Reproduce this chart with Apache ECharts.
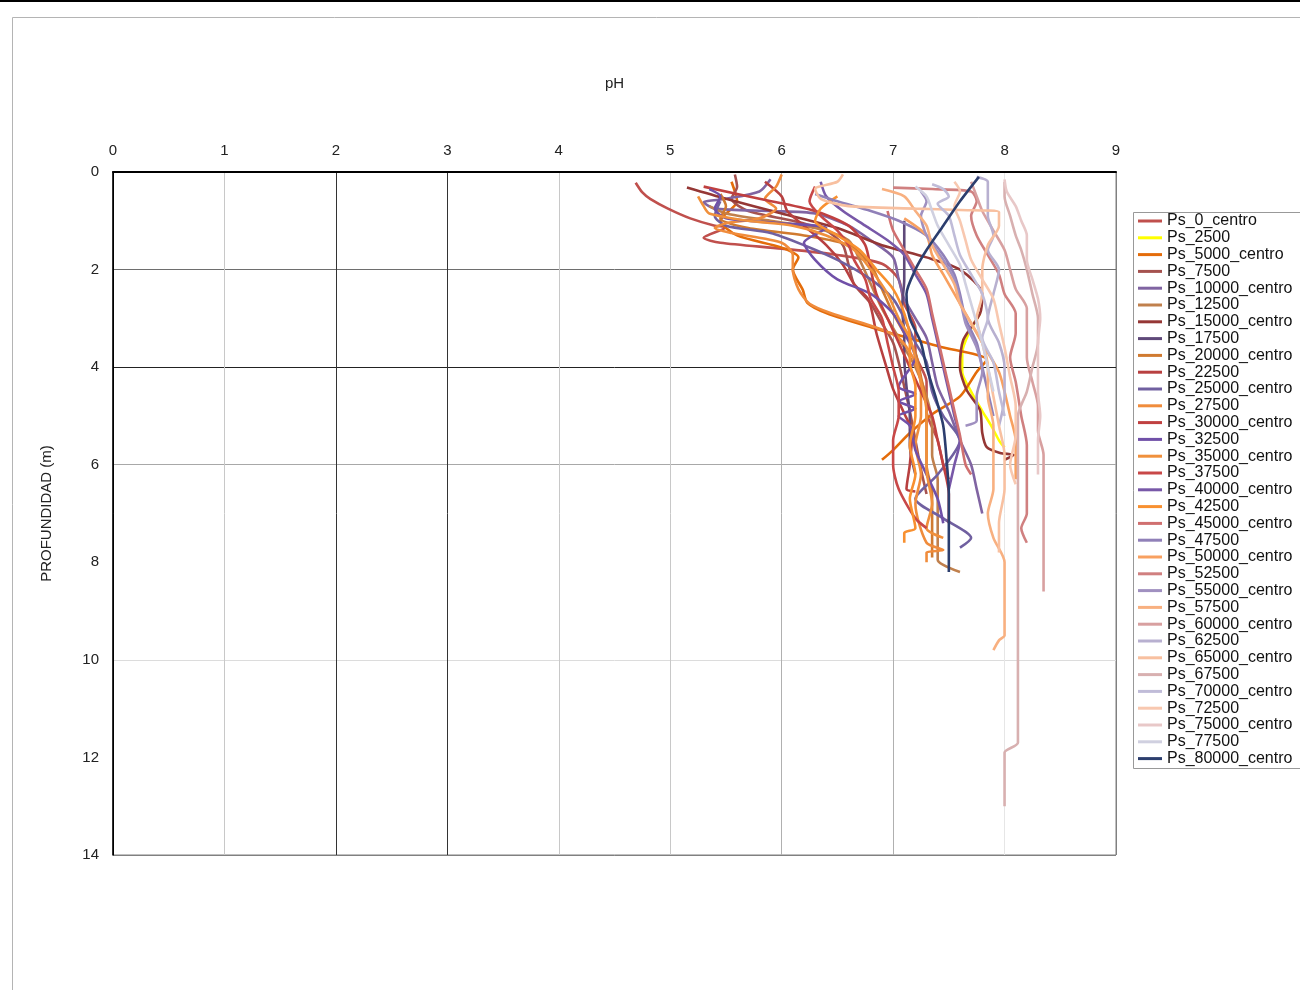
<!DOCTYPE html>
<html>
<head>
<meta charset="utf-8">
<script src="https://cdn.jsdelivr.net/npm/echarts@6/dist/echarts.min.js"></script>
<style>
  html, body { margin: 0; padding: 0; background: #ffffff; }
  #chart { width: 1300px; height: 990px; }
</style>
</head>
<body>
<div id="chart"></div>
<script>
// pH profiles against depth, one per sampling point: [pH, depth (m)]
const seriesNames = [
  'Ps_0_centro', 'Ps_2500', 'Ps_5000_centro', 'Ps_7500', 'Ps_10000_centro', 'Ps_12500',
  'Ps_15000_centro', 'Ps_17500', 'Ps_20000_centro', 'Ps_22500', 'Ps_25000_centro', 'Ps_27500',
  'Ps_30000_centro', 'Ps_32500', 'Ps_35000_centro', 'Ps_37500', 'Ps_40000_centro', 'Ps_42500',
  'Ps_45000_centro', 'Ps_47500', 'Ps_50000_centro', 'Ps_52500', 'Ps_55000_centro', 'Ps_57500',
  'Ps_60000_centro', 'Ps_62500', 'Ps_65000_centro', 'Ps_67500', 'Ps_70000_centro', 'Ps_72500',
  'Ps_75000_centro', 'Ps_77500', 'Ps_80000_centro'
];

const phTicks = [0, 1, 2, 3, 4, 5, 6, 7, 8, 9];
const depthTicks = [0, 2, 4, 6, 8, 10, 12, 14];

const ps0 = [[4.69,0.22],[4.75,0.42],[4.82,0.55],[4.98,0.75],[5.18,0.95],[5.4,1.1],[5.5,1.13],[5.3,1.35],[5.45,1.45],[6.0,1.57],[6.5,1.7],[6.9,1.88],[7.05,2.2],[7.1,2.7],[7.2,3.2],[7.2,3.7],[7.3,4.3],[7.3,4.9],[7.4,5.5],[7.45,6.0],[7.5,6.3]];
const ps2500 = [[7.78,2.9],[7.68,3.3],[7.62,3.7],[7.62,4.1],[7.7,4.5],[7.8,4.9],[7.88,5.2],[7.95,5.5],[8.0,5.65]];
const ps5000 = [[5.55,0.2],[5.6,0.6],[5.45,1.0],[5.6,1.3],[6.0,1.55],[6.15,1.75],[6.1,2.0],[6.19,2.42],[6.23,2.68],[6.4,2.89],[6.8,3.18],[7.42,3.58],[7.84,3.85],[7.75,4.1],[7.6,4.6],[7.36,4.95],[7.15,5.35],[7.0,5.7],[6.9,5.9]];
const ps7500 = [[5.58,0.05],[5.6,0.3],[5.55,0.55],[5.7,0.8],[6.1,1.0],[6.4,1.2],[6.55,1.5],[6.6,1.9],[6.65,2.3],[6.8,2.7],[6.9,3.1],[7.0,3.5],[7.05,3.9],[7.1,4.4],[7.15,4.9],[7.2,5.5],[7.25,6.1],[7.3,6.6]];
const ps10000 = [[5.9,0.15],[5.8,0.4],[5.5,0.55],[5.3,0.62],[5.4,0.75],[5.9,0.8],[6.3,0.85],[6.6,1.1],[6.8,1.4],[7.0,1.75],[7.05,2.2],[7.1,2.6],[7.2,3.0],[7.3,3.4],[7.35,3.9],[7.4,4.4],[7.5,4.9],[7.6,5.5],[7.7,6.0],[7.75,6.5],[7.8,7.0]];
const ps12500 = [[5.35,0.7],[5.5,0.85],[5.9,1.0],[6.3,1.15],[6.6,1.4],[6.7,1.8],[6.8,2.3],[6.9,2.8],[7.0,3.2],[7.1,3.6],[7.2,4.0],[7.3,4.6],[7.35,5.2],[7.35,5.8],[7.4,6.3],[7.4,6.9],[7.4,7.5],[7.4,7.95],[7.6,8.2]];
const ps15000 = [[5.15,0.32],[5.5,0.55],[6.0,0.85],[6.5,1.15],[6.9,1.5],[7.3,1.75],[7.6,2.0],[7.8,2.5],[7.78,2.9],[7.63,3.44],[7.6,4.0],[7.66,4.47],[7.78,4.88],[7.8,5.35],[7.84,5.64],[7.96,5.76],[8.08,5.8],[8.0,5.9]];
const ps17500 = [[7.1,1.0],[7.1,1.6],[7.1,2.2],[7.08,2.8],[7.1,3.3],[7.1,3.8],[7.12,4.4],[7.15,5.0],[7.15,5.6],[7.2,6.2]];
const ps20000 = [[5.45,0.45],[5.5,0.7],[5.45,0.95],[5.7,1.15],[6.2,1.3],[6.6,1.5],[6.8,1.9],[6.9,2.4],[7.0,2.9],[7.1,3.3],[7.2,3.7],[7.25,4.2],[7.3,4.8],[7.3,5.4],[7.3,6.0],[7.35,6.6],[7.35,7.2],[7.35,7.9]];
const ps22500 = [[5.85,0.2],[6.0,0.5],[6.05,0.8],[6.2,1.1],[6.4,1.5],[6.55,1.9],[6.65,2.3],[6.78,2.62],[6.85,3.3],[6.94,4.0],[7.0,4.45],[7.1,4.95],[7.17,5.35],[7.15,6.0],[7.12,6.5],[7.2,6.55]];
const ps25000 = [[5.45,0.6],[5.4,0.9],[5.5,1.1],[5.9,1.25],[6.2,1.5],[6.5,1.8],[6.8,2.2],[7.0,2.6],[7.1,3.0],[7.2,3.5],[7.3,3.9],[7.35,4.5],[7.45,5.0],[7.6,5.5],[7.4,6.2],[7.2,6.7],[7.45,7.1],[7.7,7.5],[7.6,7.7]];
const ps27500 = [[6.0,0.05],[5.95,0.3],[5.85,0.55],[5.95,0.75],[5.8,0.95],[5.5,1.05],[5.4,1.15],[5.55,1.25],[6.0,1.45],[6.1,1.7],[6.1,2.0],[6.15,2.4],[6.25,2.7],[6.45,2.9],[6.8,3.15],[7.05,3.4],[7.2,3.9],[7.25,4.4],[7.25,5.0],[7.2,5.6],[7.25,6.2],[7.2,6.8],[7.3,7.6],[7.45,7.75],[7.3,7.8],[7.3,8.0]];
const ps30000 = [[5.3,0.3],[5.8,0.55],[6.3,0.8],[6.6,1.1],[6.75,1.5],[6.8,2.0],[6.85,2.5],[6.95,3.0],[7.05,3.5],[7.15,4.0],[7.25,4.5],[7.35,5.0],[7.4,5.5],[7.45,6.0],[7.5,6.6],[7.5,7.2]];
const ps32500 = [[5.35,0.35],[5.45,0.5],[5.4,0.75],[5.5,0.95],[6.0,1.05],[6.4,1.15],[6.2,1.45],[6.3,1.8],[6.5,2.2],[6.8,2.5],[7.0,2.9],[7.1,3.3],[7.2,3.8],[7.05,4.4],[7.2,4.55],[7.05,4.7],[7.2,4.85],[7.05,5.0],[7.15,5.2],[7.2,5.7],[7.3,6.2],[7.4,6.7],[7.45,7.2]];
const ps35000 = [[5.25,0.5],[5.3,0.7],[5.35,0.85],[5.7,1.0],[6.1,1.1],[6.4,1.3],[6.65,1.6],[6.8,2.0],[6.95,2.5],[7.05,3.0],[7.15,3.4],[7.2,3.8],[7.25,4.3],[7.3,4.9],[7.3,5.5],[7.3,6.1],[7.35,6.8],[7.3,7.3],[7.45,7.5]];
const ps37500 = [[6.3,0.3],[6.25,0.6],[6.35,0.9],[6.5,1.2],[6.6,1.5],[6.65,1.8],[6.75,2.2],[6.8,2.6],[6.9,3.0],[6.95,3.5],[7.0,4.0],[7.05,4.5],[7.05,5.0],[7.0,5.5],[7.0,6.0],[7.05,6.5],[7.2,7.1],[7.3,7.3]];
const ps40000 = [[6.35,0.2],[6.4,0.5],[6.55,0.8],[6.75,1.1],[6.95,1.4],[7.1,1.7],[7.2,2.1],[7.3,2.5],[7.35,3.0],[7.4,3.5],[7.45,4.0],[7.5,4.5],[7.55,5.0],[7.6,5.5],[7.55,6.0],[7.5,6.5]];
const ps42500 = [[6.5,0.5],[6.35,0.75],[6.3,1.0],[6.5,1.3],[6.7,1.6],[6.85,2.0],[7.0,2.4],[7.1,2.9],[7.15,3.4],[7.15,3.9],[7.2,4.4],[7.2,5.0],[7.15,5.6],[7.2,6.2],[7.15,6.7],[7.2,7.3],[7.1,7.4],[7.1,7.6]];
const ps45000 = [[6.95,0.8],[7.0,1.2],[7.1,1.6],[7.2,2.0],[7.3,2.4],[7.35,2.9],[7.4,3.4],[7.45,3.9],[7.5,4.4],[7.55,4.9],[7.6,5.4],[7.65,6.0],[7.7,6.2]];
const ps47500 = [[6.3,0.45],[6.5,0.6],[6.8,0.8],[7.05,1.0],[7.3,1.3],[7.45,1.7],[7.55,2.1],[7.6,2.5],[7.65,3.0],[7.75,3.5],[7.8,4.0],[7.85,4.5],[7.9,5.0]];
const ps50000 = [[7.1,0.95],[7.3,1.3],[7.35,1.7],[7.45,2.1],[7.55,2.5],[7.65,2.9],[7.75,3.3],[7.85,3.7],[7.95,4.1],[8.0,4.5],[8.05,5.0],[8.1,5.5],[8.1,6.3]];
const ps52500 = [[7.0,0.32],[7.35,0.35],[7.7,0.4],[7.75,0.6],[7.7,0.9],[7.75,1.3],[7.85,1.7],[7.95,2.1],[8.0,2.5],[8.1,2.9],[8.1,3.3],[8.05,3.8],[8.1,4.3],[8.15,5.0],[8.2,5.6],[8.2,6.1],[8.2,7.0],[8.15,7.3],[8.2,7.6]];
const ps55000 = [[7.25,0.4],[7.3,0.6],[7.25,0.9],[7.3,1.3],[7.45,1.8],[7.55,2.2],[7.6,2.6],[7.65,3.1],[7.75,3.6],[7.8,4.1],[7.75,4.6],[7.75,5.1],[7.65,5.2]];
const ps57500 = [[6.9,0.35],[7.1,0.5],[7.2,0.8],[7.3,1.1],[7.35,1.5],[7.45,1.9],[7.55,2.3],[7.6,2.7],[7.7,3.1],[7.8,3.5],[7.85,4.0],[7.85,4.6],[7.9,5.2],[7.9,5.9],[7.9,6.5],[7.85,7.0],[7.9,7.5],[8.0,8.0],[8.0,8.8],[8.0,9.35],[8.0,9.5],[7.95,9.6],[7.9,9.8]];
const ps60000 = [[7.7,0.2],[7.75,0.5],[7.8,0.8],[7.9,1.2],[8.0,1.6],[8.05,2.0],[8.1,2.4],[8.2,2.8],[8.2,3.3],[8.2,3.8],[8.25,4.3],[8.3,4.8],[8.3,5.3],[8.35,5.8],[8.35,6.5],[8.35,7.2],[8.35,8.0],[8.35,8.6]];
const ps62500 = [[7.75,0.1],[7.85,0.2],[7.85,0.5],[7.85,0.9],[7.9,1.3],[7.85,1.6],[7.95,2.0],[7.9,2.5],[7.85,3.0],[7.95,3.5],[8.0,4.0],[8.0,4.6],[7.95,5.2]];
const ps65000 = [[6.55,0.05],[6.5,0.2],[6.3,0.35],[6.35,0.55],[6.6,0.7],[7.2,0.75],[7.6,0.78],[7.95,0.82],[7.95,1.1],[7.85,1.5],[7.8,2.0],[7.8,2.5],[7.75,3.0],[7.8,3.5],[7.85,4.0],[7.9,4.6],[7.95,5.2],[8.0,5.8],[8.0,6.5],[7.95,7.2],[7.95,7.8]];
const ps67500 = [[8.0,0.2],[8.0,0.5],[8.05,0.9],[8.1,1.3],[8.15,1.6],[8.2,2.0],[8.25,2.5],[8.3,3.0],[8.3,3.5],[8.25,4.0],[8.2,4.5],[8.12,5.0],[8.12,6.0],[8.12,7.0],[8.12,8.0],[8.12,9.0],[8.12,10.0],[8.12,11.0],[8.12,11.7],[8.0,11.9],[8.0,12.5],[8.0,13.0]];
const ps70000 = [[7.35,0.25],[7.45,0.35],[7.5,0.5],[7.4,0.65],[7.5,0.9],[7.55,1.3],[7.6,1.7],[7.7,2.1],[7.8,2.5],[7.85,3.0],[7.8,3.4],[7.9,3.9],[7.95,4.5],[8.0,5.0]];
const ps72500 = [[7.55,0.2],[7.6,0.4],[7.55,0.7],[7.6,1.0],[7.65,1.4],[7.7,1.8],[7.8,2.2],[7.9,2.6],[7.95,3.1],[8.0,3.6],[8.05,4.2],[8.1,4.8],[8.1,5.4],[8.05,6.0],[8.1,6.4]];
const ps75000 = [[8.0,0.15],[8.02,0.4],[8.1,0.7],[8.15,1.0],[8.2,1.3],[8.2,1.8],[8.25,2.2],[8.3,2.6],[8.32,3.0],[8.3,3.5],[8.3,4.0],[8.3,4.5],[8.32,5.0],[8.3,5.5],[8.3,6.2]];
const ps77500 = [[7.2,0.3],[7.3,0.5],[7.35,0.8],[7.4,1.1],[7.5,1.5],[7.6,1.9],[7.65,2.3],[7.7,2.7],[7.75,3.1],[7.8,3.5],[7.85,4.0],[7.9,4.5]];
const ps80000 = [[7.77,0.1],[7.6,0.6],[7.45,1.1],[7.3,1.6],[7.2,2.0],[7.12,2.5],[7.15,3.0],[7.25,3.5],[7.3,4.0],[7.38,4.6],[7.45,5.2],[7.48,5.9],[7.5,6.6],[7.5,7.3],[7.5,8.2]];

const profiles = [
  ps0, ps2500, ps5000, ps7500, ps10000, ps12500, ps15000, ps17500, ps20000, ps22500, ps25000,
  ps27500, ps30000, ps32500, ps35000, ps37500, ps40000, ps42500, ps45000, ps47500, ps50000,
  ps52500, ps55000, ps57500, ps60000, ps62500, ps65000, ps67500, ps70000, ps72500, ps75000,
  ps77500, ps80000
];

// line colours, one per profile
const palette = [
  '#c0504d', '#ffff00', '#e46c0a', '#a5524f', '#8064a2', '#c0804d', '#953735', '#5f497a',
  '#d07a30', '#b84040', '#7060a0', '#f08c3c', '#c04040', '#7050a8', '#f0903c', '#c84848',
  '#7858a8', '#f89030', '#d07070', '#9080b8', '#f8a060', '#d08080', '#a090c0', '#f8b080',
  '#d8a0a0', '#b8b0d0', '#f8c0a0', '#d8b0b0', '#c0bcd8', '#f8c8b0', '#e8c8c8', '#d0d0e0',
  '#2c3e6e'
];

const FONT = '"Liberation Sans", Arial, sans-serif';

const chart = echarts.init(document.getElementById('chart'), null, { renderer: 'canvas' });

const series = profiles.map((pts, i) => ({
  name: seriesNames[i],
  type: 'line',
  data: pts,
  showSymbol: false,
  smooth: 0.25,
  lineStyle: { width: 2.6, color: palette[i] },
  itemStyle: { color: palette[i] },
  emphasis: { disabled: true },
  animation: false
}));

chart.setOption({
  backgroundColor: '#ffffff',
  animation: false,
  textStyle: { fontFamily: FONT },
  graphic: [
    { type: 'line', shape: { x1: 0, y1: 1, x2: 1300, y2: 1 }, style: { stroke: '#000', lineWidth: 2 }, z: 0 },
    { type: 'rect', shape: { x: 12.5, y: 17.5, width: 1400, height: 1100 }, style: { fill: 'none', stroke: '#b4b4b4', lineWidth: 1 }, z: 0 },
    { type: 'rect', shape: { x: 1133.5, y: 212.5, width: 300, height: 556 }, style: { fill: '#fff', stroke: '#999', lineWidth: 1 }, z: 0 }
  ],
  grid: {
    left: 113, top: 172, width: 1003, height: 683,
    show: true, borderColor: '#808080', borderWidth: 1, backgroundColor: 'transparent'
  },
  legend: {
    orient: 'vertical',
    left: 1138, top: 213,
    padding: 0,
    itemGap: 0.8,
    itemWidth: 24,
    itemHeight: 3,
    icon: 'rect',
    selectedMode: false,
    data: seriesNames,
    textStyle: { fontFamily: FONT, fontSize: 16, color: '#111', lineHeight: 16, padding: [0, 0, 0, 0] }
  },
  xAxis: {
    type: 'value',
    position: 'top',
    min: 0, max: 9, interval: 1,
    name: 'pH',
    nameLocation: 'middle',
    nameGap: 81,
    nameTextStyle: { fontFamily: FONT, fontSize: 15, color: '#222' },
    axisLine: { show: true, lineStyle: { color: '#000', width: 2 } },
    axisTick: { show: false },
    axisLabel: {
      margin: 14, fontFamily: FONT, fontSize: 15, color: '#222',
      formatter: v => (phTicks.includes(v) ? String(v) : '')
    },
    splitLine: {
      show: true,
      lineStyle: {
        width: 1,
        color: ['#000', '#c8c8c8', '#333', '#333', '#c8c8c8', '#c8c8c8', '#b0b0b0', '#b0b0b0', '#e6e6e6', '#808080']
      }
    }
  },
  yAxis: {
    type: 'value',
    inverse: true,
    min: 0, max: 14, interval: 2,
    name: 'PROFUNDIDAD (m)',
    nameLocation: 'middle',
    nameGap: 59,
    nameRotate: 90,
    nameTextStyle: { fontFamily: FONT, fontSize: 15, color: '#222' },
    axisLine: { show: true, lineStyle: { color: '#000', width: 1.5 } },
    axisTick: { show: false },
    axisLabel: {
      margin: 14, fontFamily: FONT, fontSize: 15, color: '#222',
      formatter: v => (depthTicks.includes(v) ? String(v) : '')
    },
    splitLine: {
      show: true,
      lineStyle: {
        width: 1,
        color: ['#000', '#6e6e6e', '#222', '#a8a8a8', 'rgba(0,0,0,0)', '#dcdcdc', 'rgba(0,0,0,0)', '#808080']
      }
    }
  },
  series: series
});
</script>
</body>
</html>
